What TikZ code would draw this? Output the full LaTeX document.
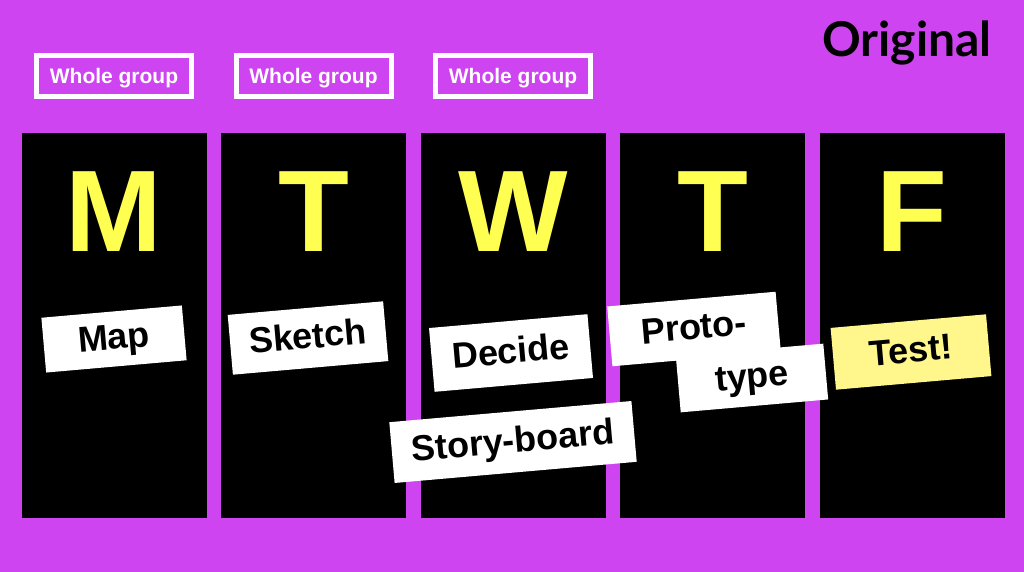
\documentclass[tikz,border=0pt]{standalone}
\usepackage{fontspec}
\setmainfont{Liberation Sans}
\newfontfamily\titlefont{Lato}
\usepackage{tikz}

\definecolor{bgpurple}{RGB}{205,68,240}
\definecolor{dayyellow}{RGB}{255,255,82}
\definecolor{testyellow}{RGB}{255,246,140}

\begin{document}
\begin{tikzpicture}[x=1pt,y=-1pt,
    daycol/.style={fill=black, minimum width=185pt, minimum height=385pt, inner sep=0pt},
    dayletter/.style={text=dayyellow, inner sep=0pt, font=\bfseries\fontsize{116}{116}\selectfont},
    groupbox/.style={draw=white, line width=5pt, text=white, minimum width=155pt, minimum height=41pt,
        inner sep=0pt, text height=16pt, text depth=0pt, font=\bfseries\fontsize{21}{21}\selectfont},
    card/.style={fill=white, rotate=5, inner sep=0pt, text height=27pt, text depth=6pt,
        font=\bfseries\fontsize{36}{36}\selectfont}]

\fill [bgpurple] (0,0) rectangle (1024,572);

\node [anchor=base west, inner sep=0pt, font=\titlefont\bfseries\fontsize{48}{48}\selectfont] (title) at (822,57) {Original};

\foreach \i/\l in {0/M,1/T,2/W,3/T,4/F} {
    \node [daycol] (col\i) at (114+199.5*\i,325.5) {};
    \node [dayletter] (day\i) at (114+199.5*\i,211.5) {\l};
}

\foreach \i in {0,1,2}
    \node [groupbox] (group\i) at (114+199.5*\i,76) {Whole group};

\node [card, minimum width=141pt, minimum height=55pt] (map) at (114,339) {Map};
\node [card, minimum width=156pt, minimum height=60pt] (sketch) at (308,338) {Sketch};
\node [card, minimum width=159pt, minimum height=64pt] (decide) at (511,353) {Decide};
\node [card, minimum width=243pt, minimum height=61pt] (story) at (513,442) {Story-board};
\node [card, minimum width=169pt, minimum height=60pt] (proto) at (694,329) {Proto-};
\node [card, minimum width=148pt, minimum height=56pt] (type) at (752,378) {type};
\node [card, fill=testyellow, minimum width=156pt, minimum height=62pt] (test) at (911,352) {Test!};

\end{tikzpicture}
\end{document}
